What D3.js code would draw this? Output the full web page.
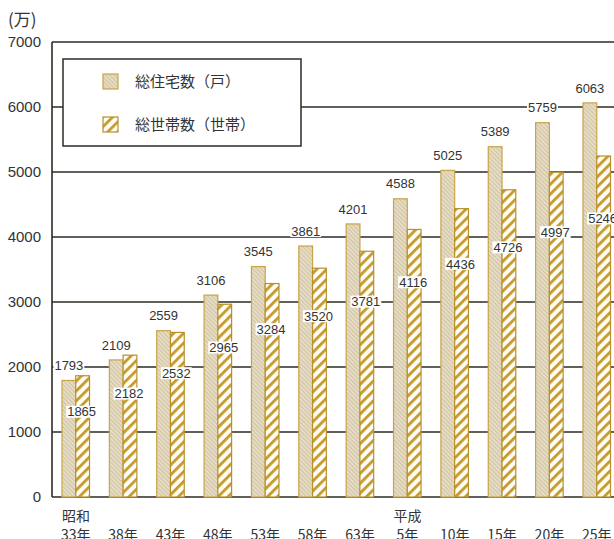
<!DOCTYPE html>
<html>
<head>
<meta charset="utf-8">
<script src="https://cdn.jsdelivr.net/npm/d3@7"></script>
<style>
  body { margin: 0; background: #fff; }
  svg { display: block; }
</style>
</head>
<body>
<svg width="614" height="539"></svg>
<script>
// 年次ラベル
const years = ["33年", "38年", "43年", "48年", "53年", "58年", "63年", "5年", "10年", "15年", "20年", "25年"];
const eras = ["昭和", "", "", "", "", "", "", "平成", "", "", "", ""];
// 総住宅数（戸）
const houses = [1793, 2109, 2559, 3106, 3545, 3861, 4201, 4588, 5025, 5389, 5759, 6063];
// 総世帯数（世帯）
const households = [1865, 2182, 2532, 2965, 3284, 3520, 3781, 4116, 4436, 4726, 4997, 5246];
const yTicks = [0, 1000, 2000, 3000, 4000, 5000, 6000, 7000];

const svg = d3.select("svg"),
    width = +svg.attr("width"),
    height = +svg.attr("height");

const plotLeft = 52, plotTop = 42, plotBottom = 497;
const textColor = "#333";
const lineColor = "#2e2c22";
const numFont = "'Liberation Sans', Arial, sans-serif";
const jpFont = "'Noto Sans CJK JP', sans-serif";

const x = d3.scaleBand()
    .domain(d3.range(years.length))
    .range([plotLeft, 620.5])
    .paddingInner(0.419)
    .paddingOuter(0.211);
const bw = x.bandwidth() / 2;

const y = d3.scaleLinear().domain([0, 7000]).range([plotBottom, plotTop]);

// 模様
const defs = svg.append("defs");
const hp = defs.append("pattern")
    .attr("id", "houseFill")
    .attr("patternUnits", "userSpaceOnUse")
    .attr("width", 3).attr("height", 3)
    .attr("patternTransform", "rotate(-45)");
hp.append("rect").attr("width", 3).attr("height", 3).attr("fill", "#e5dcc6");
hp.append("rect").attr("width", 0.9).attr("height", 3).attr("fill", "#d0c09c");

const sp = defs.append("pattern")
    .attr("id", "stripeFill")
    .attr("patternUnits", "userSpaceOnUse")
    .attr("width", 7).attr("height", 7)
    .attr("patternTransform", "rotate(45)");
sp.append("rect").attr("width", 7).attr("height", 7).attr("fill", "#fffdf6");
sp.append("rect").attr("width", 2.8).attr("height", 7).attr("fill", "#c59a2c");

// 目盛線
svg.append("g")
    .selectAll("line")
    .data(yTicks.filter(d => d > 0))
    .join("line")
    .attr("x1", plotLeft)
    .attr("x2", width)
    .attr("y1", d => y(d))
    .attr("y2", d => y(d))
    .attr("stroke", lineColor)
    .attr("stroke-width", d => d === 7000 ? 1.6 : 1.4);

svg.append("line")
    .attr("x1", plotLeft).attr("x2", width)
    .attr("y1", y(0)).attr("y2", y(0))
    .attr("stroke", lineColor).attr("stroke-width", 1.6);
svg.append("line")
    .attr("x1", plotLeft).attr("x2", plotLeft)
    .attr("y1", y(7000)).attr("y2", y(0))
    .attr("stroke", lineColor).attr("stroke-width", 1.6);

// y軸ラベル
svg.append("g")
    .selectAll("text")
    .data(yTicks)
    .join("text")
    .attr("x", 41)
    .attr("y", d => y(d))
    .attr("dy", "0.36em")
    .attr("text-anchor", "end")
    .style("font-family", numFont)
    .style("font-size", "15px")
    .style("fill", textColor)
    .text(d => d);

svg.append("text")
    .attr("x", 8).attr("y", 26)
    .style("font-family", jpFont)
    .style("font-size", "17px")
    .style("fill", textColor)
    .text("(万)");

// 棒
svg.append("g")
    .selectAll("rect")
    .data(houses)
    .join("rect")
    .attr("x", (d, i) => x(i))
    .attr("y", d => y(d))
    .attr("width", bw)
    .attr("height", d => y(0) - y(d))
    .attr("fill", "url(#houseFill)")
    .attr("stroke", "#c8a447")
    .attr("stroke-width", 1.2);

svg.append("g")
    .selectAll("rect")
    .data(households)
    .join("rect")
    .attr("x", (d, i) => x(i) + bw)
    .attr("y", d => y(d))
    .attr("width", bw)
    .attr("height", d => y(0) - y(d))
    .attr("fill", "url(#stripeFill)")
    .attr("stroke", "#b98f2a")
    .attr("stroke-width", 1.2);

// 値ラベル
function valueLabel(g, cx, cy, txt) {
    const t = g.append("text")
        .attr("x", cx).attr("y", cy)
        .attr("dy", "0.36em")
        .attr("text-anchor", "middle")
        .style("font-family", numFont)
        .style("font-size", "13px")
        .style("fill", textColor)
        .text(txt);
    const b = t.node().getBBox();
    g.insert("rect", "text")
        .attr("x", b.x - 1).attr("y", cy - 6)
        .attr("width", b.width + 2).attr("height", 12)
        .attr("fill", "#fff");
}

const labels = svg.append("g");
houses.forEach((d, i) => {
    const g = labels.append("g");
    valueLabel(g, x(i) + bw / 2, y(d) - 15, d);
});
// 世帯数ラベルは棒の上端から少しずつ深く置く
households.forEach((d, i) => {
    const g = labels.append("g");
    valueLabel(g, x(i) + bw * 1.5 - 1, y(d) + 36 + 2.4 * i, d);
});

// x軸ラベル
svg.append("g")
    .selectAll("text")
    .data(years)
    .join("text")
    .attr("x", (d, i) => x(i) + bw)
    .attr("y", 540)
    .attr("text-anchor", "middle")
    .style("font-family", jpFont)
    .style("font-size", "14px")
    .style("fill", textColor)
    .text(d => d);

svg.append("g")
    .selectAll("text")
    .data(eras)
    .join("text")
    .attr("x", (d, i) => x(i))
    .attr("y", 521)
    .style("font-family", jpFont)
    .style("font-size", "14px")
    .style("fill", textColor)
    .text(d => d);

// 凡例
const legend = svg.append("g");
legend.append("rect")
    .attr("x", 63).attr("y", 59)
    .attr("width", 238).attr("height", 87)
    .attr("fill", "#fff")
    .attr("stroke", lineColor)
    .attr("stroke-width", 1.5);

const legendItems = [
    { label: "総住宅数（戸）", fill: "url(#houseFill)", stroke: "#c8a447" },
    { label: "総世帯数（世帯）", fill: "url(#stripeFill)", stroke: "#b98f2a" }
];
legendItems.forEach((d, i) => {
    const cy = 82 + i * 43;
    legend.append("rect")
        .attr("x", 103).attr("y", cy - 8)
        .attr("width", 15).attr("height", 15)
        .attr("fill", d.fill)
        .attr("stroke", d.stroke)
        .attr("stroke-width", 1.2);
    legend.append("text")
        .attr("x", 135).attr("y", cy)
        .attr("dy", "0.36em")
        .style("font-family", jpFont)
        .style("font-size", "15px")
        .style("fill", textColor)
        .text(d.label);
});
</script>
</body>
</html>
